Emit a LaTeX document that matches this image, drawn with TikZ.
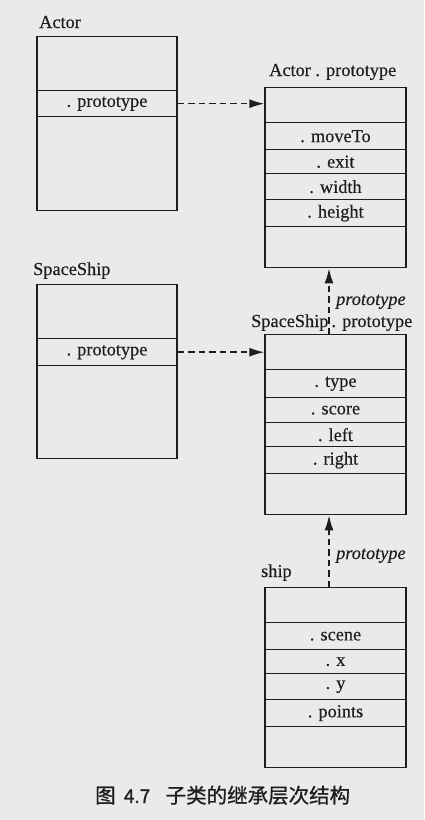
\documentclass[tikz,border=0pt]{standalone}
\usepackage{fontspec}
\setmainfont[FakeBold=0.35]{Liberation Serif}
\newfontfamily\cjkfont[FakeBold=0.9]{Noto Sans CJK SC}
\usetikzlibrary{arrows.meta}
\definecolor{paper}{RGB}{234,234,232}
\definecolor{ink}{RGB}{30,30,30}
\tikzset{
  cell/.style={draw=ink, line width=1.4pt, minimum width=141pt, inner sep=0pt, anchor=north, font=\fontsize{18.3}{20}\selectfont, text=ink},
  lbl/.style={anchor=base west, inner sep=0pt, font=\fontsize{18.3}{20}\selectfont, text=ink},
  ilbl/.style={anchor=base west, inner sep=0pt, font=\fontsize{18.3}{20}\selectfont\itshape, text=ink},
  link/.style={draw=ink, line width=1.5pt, dash pattern=on 6.5pt off 4pt, -{Latex[length=15pt,width=9pt]}}
}
\begin{document}
\begin{tikzpicture}[x=1pt,y=-1pt]
\fill[paper] (0,0) rectangle (424,820);
\useasboundingbox (0,0) rectangle (424,820);
% Actor
\node[lbl] (lactor) at (39,28) {Actor};
\node[cell, minimum width=140pt, minimum height=54pt] (a1) at (107,36) {};
\node[cell, minimum width=140pt, minimum height=26pt] (a2) at (107,90) {. prototype};
\node[cell, minimum width=140pt, minimum height=94pt] (a3) at (107,116) {};
% Actor.prototype
\node[lbl] (lap) at (269,76) {Actor . prototype};
\node[cell, minimum height=35pt] (ap1) at (335.5,87) {};
\node[cell, minimum height=27pt] (ap2) at (335.5,122) {. moveTo};
\node[cell, minimum height=24pt] (ap3) at (335.5,149) {. exit};
\node[cell, minimum height=26pt] (ap4) at (335.5,173) {. width};
\node[cell, minimum height=27pt] (ap5) at (335.5,199) {. height};
\node[cell, minimum height=41pt] (ap6) at (335.5,226) {};
% SpaceShip
\node[lbl] (lss) at (33,275) {SpaceShip};
\node[cell, minimum width=140pt, minimum height=54pt] (s1) at (107,284) {};
\node[cell, minimum width=140pt, minimum height=27pt] (s2) at (107,338) {. prototype};
\node[cell, minimum width=140pt, minimum height=93pt] (s3) at (107,365) {};
% SpaceShip.prototype
\node[ilbl] (lp1) at (336,305) {prototype};
\node[lbl] (lsp) at (251,327) {SpaceShip\,. prototype};
\node[cell, minimum height=35pt] (sp1) at (335.5,334) {};
\node[cell, minimum height=28pt] (sp2) at (335.5,369) {. type};
\node[cell, minimum height=25pt] (sp3) at (335.5,397) {. score};
\node[cell, minimum height=24pt] (sp4) at (335.5,422) {. left};
\node[cell, minimum height=27pt] (sp5) at (335.5,446) {. right};
\node[cell, minimum height=41pt] (sp6) at (335.5,473) {};
% ship
\node[ilbl] (lp2) at (336,559) {prototype};
\node[lbl] (lship) at (261,577) {ship};
\node[cell, minimum height=35pt] (h1) at (335.5,587) {};
\node[cell, minimum height=27pt] (h2) at (335.5,622) {. scene};
\node[cell, minimum height=24pt] (h3) at (335.5,649) {. x};
\node[cell, minimum height=26pt] (h4) at (335.5,673) {. y};
\node[cell, minimum height=27pt] (h5) at (335.5,699) {. points};
\node[cell, minimum height=41pt] (h6) at (335.5,726) {};
% connectors
\draw[link] (a2.east) -- (ap1.west |- a2.east);
\draw[link] (s2.east) -- (sp1.west |- s2.east);
\draw[link] ([xshift=-6.5pt]sp1.north) -- ([xshift=-6.5pt]ap6.south);
\draw[link] ([xshift=-6.5pt]h1.north) -- ([xshift=-6.5pt]sp6.south);
% caption
\node[anchor=base west, inner sep=0pt, text=ink, font=\cjkfont\fontsize{20.5}{23}\selectfont] (cap) at (95,803) {图\hspace{0.4em}{\fontsize{19}{23}\selectfont 4.7}\hspace{0.75em}子类的继承层次结构};
\end{tikzpicture}
\end{document}
